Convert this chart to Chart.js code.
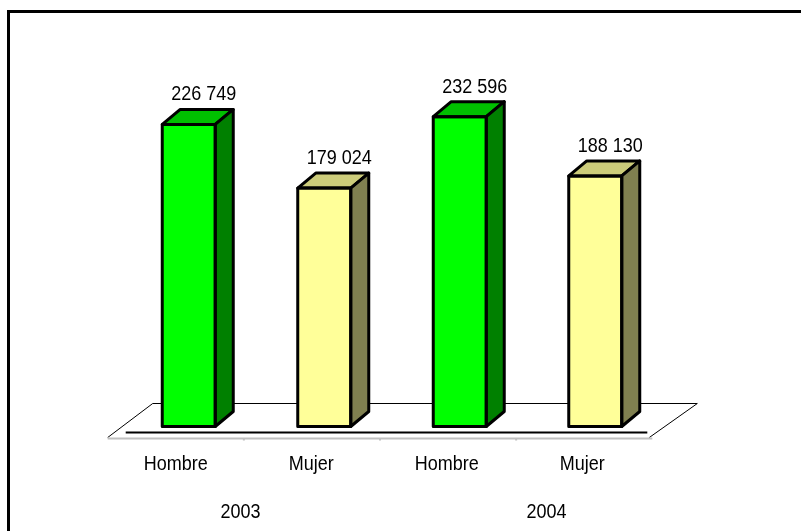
<!DOCTYPE html>
<html>
<head>
<meta charset="utf-8">
<script src="https://cdn.jsdelivr.net/npm/chart.js@4/dist/chart.umd.min.js"></script>
<style>
  html, body { margin: 0; padding: 0; background: #fff; }
  #wrap { width: 801px; height: 531px; }
</style>
</head>
<body>
<div id="wrap"><canvas id="grafico" width="801" height="531"></canvas></div>
<script>
var categorias = ['Hombre', 'Mujer', 'Hombre', 'Mujer'];
var anios = ['2003', '2004'];
var valores = [226749, 179024, 232596, 188130];

var frente = ['#00FF00', '#FFFF99', '#00FF00', '#FFFF99'];
var techo = ['#00C000', '#CCCC7A', '#00C000', '#CCCC7A'];
var lado = ['#008000', '#808050', '#008000', '#808050'];

var dx = 18, dy = 15;
var fuente = '18px "Liberation Sans", Arial, sans-serif';

function miles(n) {
  return String(n).replace(/\B(?=(\d{3})+(?!\d))/g, ' ');
}

function texto(ctx, t, x, y) {
  ctx.save();
  ctx.translate(x, y);
  ctx.scale(1, 1.12);
  ctx.fillText(t, 0, 0);
  ctx.restore();
}

function poligono(ctx, pts, color) {
  ctx.beginPath();
  ctx.moveTo(pts[0][0], pts[0][1]);
  for (var i = 1; i < pts.length; i++) ctx.lineTo(pts[i][0], pts[i][1]);
  ctx.closePath();
  ctx.fillStyle = color;
  ctx.fill();
  ctx.stroke();
}

var fondo3d = {
  id: 'fondo3d',
  beforeDraw: function(chart) {
    var ctx = chart.ctx;
    var area = chart.chartArea;
    var base = chart.scales.y.getPixelForValue(0);
    ctx.save();
    ctx.fillStyle = '#fff';
    ctx.fillRect(0, 0, chart.width, chart.height);

    // marco
    ctx.strokeStyle = '#000';
    ctx.lineWidth = 3;
    ctx.strokeRect(8.5, 11.5, 900, 900);

    // piso
    var atras = Math.round(base - 23.5) + 0.5;
    var adelante = Math.round(base + 10.5) + 0.5;
    var izq = area.left - 13.3, der = area.right - 10.7;
    ctx.lineWidth = 1;
    ctx.beginPath();
    ctx.moveTo(izq, adelante);
    ctx.lineTo(izq + 45, atras);
    ctx.lineTo(der + 45, atras);
    ctx.lineTo(der - 3, adelante);
    ctx.stroke();

    ctx.strokeStyle = '#c0c0c0';
    ctx.lineWidth = 2;
    ctx.beginPath();
    ctx.moveTo(izq, adelante + 1);
    ctx.lineTo(der, adelante + 1);
    var paso = (der - izq) / categorias.length;
    for (var i = 1; i < categorias.length; i++) {
      ctx.moveTo(izq + paso * i, adelante);
      ctx.lineTo(izq + paso * i, adelante + 3);
    }
    ctx.stroke();

    ctx.strokeStyle = '#000';
    ctx.lineWidth = 2;
    ctx.beginPath();
    ctx.moveTo(izq + 18, base + 6);
    ctx.lineTo(der - 5, base + 6);
    ctx.stroke();
    ctx.restore();
  },
  afterDatasetsDraw: function(chart) {
    var ctx = chart.ctx;
    var meta = chart.getDatasetMeta(0);
    var xs = chart.scales.x;
    ctx.save();
    ctx.strokeStyle = '#000';
    ctx.lineWidth = 3;
    ctx.lineJoin = 'round';
    meta.data.forEach(function(bar, i) {
      var L = bar.x - bar.width / 2, R = bar.x + bar.width / 2;
      var T = bar.y, B = bar.base;
      poligono(ctx, [[L, T], [L + dx, T - dy], [R + dx, T - dy], [R, T]], techo[i]);
      poligono(ctx, [[R, T], [R + dx, T - dy], [R + dx, B - dy], [R, B]], lado[i]);
      ctx.strokeRect(L, T, R - L, B - T);

      ctx.fillStyle = '#000';
      ctx.font = fuente;
      ctx.textAlign = 'center';
      ctx.textBaseline = 'alphabetic';
      texto(ctx, miles(valores[i]), bar.x + 15, T - 24);
    });

    // etiquetas del eje
    ctx.fillStyle = '#000';
    ctx.font = fuente;
    ctx.textAlign = 'center';
    categorias.forEach(function(c, i) {
      texto(ctx, c, xs.getPixelForValue(i) - 13, 470);
    });
    var ajuste = [-16, 19];
    anios.forEach(function(a, j) {
      var x = (xs.getPixelForValue(j * 2) + xs.getPixelForValue(j * 2 + 1)) / 2;
      texto(ctx, a, x + ajuste[j], 518);
    });
    ctx.restore();
  }
};

new Chart(document.getElementById('grafico'), {
  type: 'bar',
  data: {
    labels: categorias,
    datasets: [{
      data: valores,
      backgroundColor: frente,
      borderWidth: 0,
      barThickness: 53
    }]
  },
  options: {
    responsive: false,
    animation: false,
    devicePixelRatio: 1,
    layout: { padding: { left: 121, right: 138, top: 93.5, bottom: 104.5 } },
    plugins: { legend: { display: false }, tooltip: { enabled: false } },
    scales: {
      x: { display: false },
      y: { display: false, min: 0, max: 250000 }
    }
  },
  plugins: [fondo3d]
});
</script>
</body>
</html>
